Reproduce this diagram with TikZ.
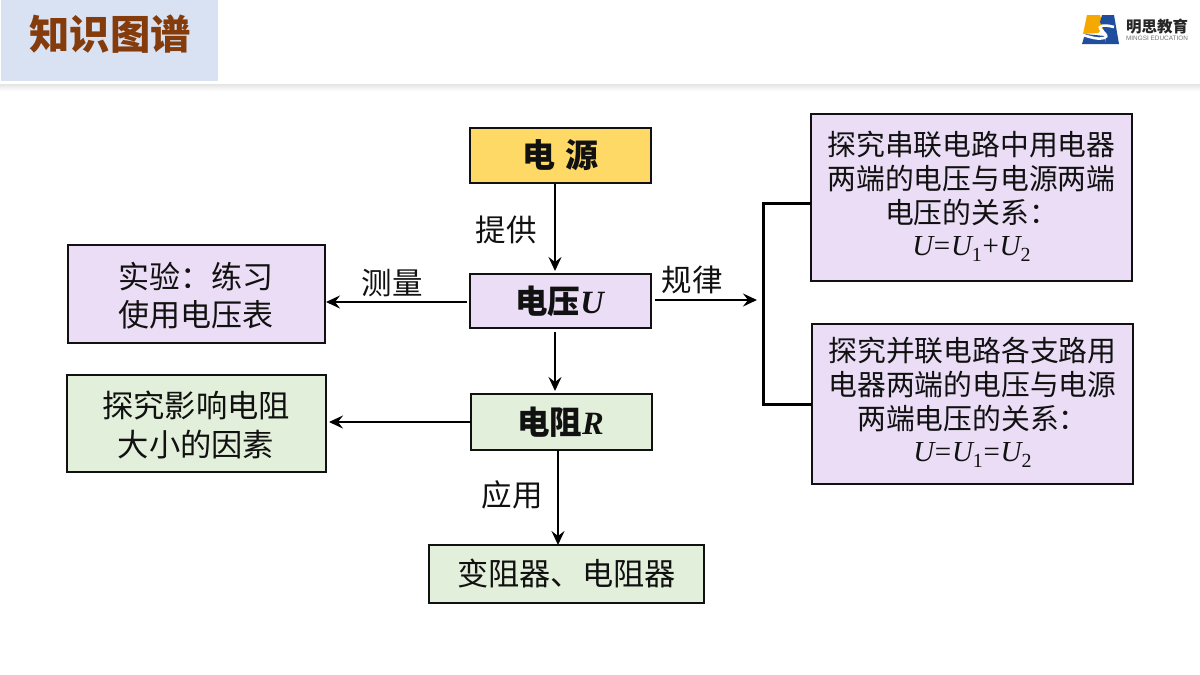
\documentclass[tikz,border=0pt]{standalone}
\usepackage{fontspec}
\setmainfont{Noto Sans CJK SC}
\newfontfamily\tm{Liberation Serif}
\newfontfamily\lat{Liberation Sans}
\usetikzlibrary{arrows.meta,calc}
\definecolor{ink}{HTML}{111111}
\definecolor{purp}{HTML}{EADDF5}
\definecolor{grn}{HTML}{E2EFDA}
\definecolor{yel}{HTML}{FFD966}
\definecolor{head}{HTML}{D9E2F3}
\definecolor{brn}{HTML}{843C0C}
\definecolor{lblue}{HTML}{1F4E9E}
\definecolor{lyel}{HTML}{F5A800}
\newcommand{\fs}[2]{\fontsize{#1}{#2}\selectfont}
\newcommand{\subs}[1]{\raisebox{-6pt}{\fontsize{20}{20}\selectfont #1}}
\newcommand{\eqn}[1]{{\tm\fs{29}{34}\itshape U\upshape\hspace{0.7pt}=\hspace{0.7pt}\itshape U\upshape\subs{1}\hspace{0.7pt}#1\hspace{0.7pt}\itshape U\upshape\subs{2}}}
\tikzset{
  x=1pt,y=-1pt,
  box/.style={draw=ink,line width=2pt,inner sep=0pt,outer sep=0pt,anchor=north west,text=ink},
  txt/.style={text=ink,inner sep=0pt,align=center},
  lab/.style={text=ink,inner sep=0pt,font=\fs{30.5}{36}},
  arr/.style={draw=black,line width=2.2pt,-{Stealth[length=14pt,width=13pt,inset=5pt]}},
  brk/.style={draw=black,line width=3pt},
}
\begin{document}
\begin{tikzpicture}
\useasboundingbox (0,0) rectangle (1200,675);
\fill[white] (0,0) rectangle (1200,675);
% header
\shade[top color=black!12,bottom color=white] (0,83) rectangle (1200,91);
\fill[white] (0,0) rectangle (1200,84);
\fill[head] (1,0) rectangle (218,81);
\node[text=brn,inner sep=0pt,font=\fs{40.3}{41}\bfseries] (title) at (110.3,34) {知识图谱};
% logo
\fill[lblue] (1082,44) -- (1085,34) -- (1105,36) -- (1106,44) -- cycle;
\fill[lyel] (1087,15) -- (1100,15) -- (1104,27) -- (1098,33) -- (1083,34) -- cycle;
\fill[lblue] (1102,15) -- (1114,15) -- (1119,44) -- (1106,44) -- (1105,33) -- (1100,22) -- cycle;
\draw[white,line width=2.6pt] (1114,27) .. controls (1103,24) and (1097,26) .. (1101,30) .. controls (1105,34) and (1109,36) .. (1104,38) .. controls (1098,40) and (1090,37) .. (1083,35);
\node[inner sep=0pt,text=black!85,font=\fs{15.5}{16}\bfseries] (lg1) at (1157,26.5) {明思教育};
\node[inner sep=0pt,text=black!55,font=\lat\fs{6.4}{7}] (lg2) at (1157,38) {MINGSI EDUCATION};
% boxes
\node[box,fill=yel,minimum width=181pt,minimum height=55pt,font=\fs{33}{40}\bfseries] (src) at (470,128) {电\,\,源};
\node[box,fill=purp,minimum width=181pt,minimum height=54pt,font=\fs{32.5}{40}\bfseries] (vol) at (470,274) {\hspace{-2pt}电压{\tm\itshape U}};
\node[box,fill=grn,minimum width=181pt,minimum height=56pt,font=\fs{32.5}{40}\bfseries] (res) at (471,394) {\hspace{-2pt}电阻{\tm\itshape R}};
\node[box,fill=purp,minimum width=257pt,minimum height=98pt] (exp) at (68,245) {};
\node[txt,font=\fs{31}{38}] (expt) at ($(exp.center)+(-0.5,2)$) {实验：练习\\使用电压表};
\node[box,fill=grn,minimum width=259pt,minimum height=97pt] (fac) at (67,375) {};
\node[txt,font=\fs{31.3}{39}] (fact) at ($(fac.center)+(-0.5,1.5)$) {探究影响电阻\\大小的因素};
\node[box,fill=grn,minimum width=275pt,minimum height=58pt,font=\fs{31.2}{40}] (app) at (429,545) {变阻器、电阻器};
\node[box,fill=purp,minimum width=321pt,minimum height=167pt] (r1) at (811,114) {};
\node[txt,font=\fs{28.8}{34}] (r1t) at ($(r1.center)+(0,-1.5)$)
  {探究串联电路中用电器\\两端的电压与电源两端\\电压的关系：\\[-2pt]\eqn{+}};
\node[box,fill=purp,minimum width=321pt,minimum height=160pt] (r2) at (812,324) {};
\node[txt,font=\fs{28.8}{34}] (r2t) at ($(r2.center)+(0,-1.5)$)
  {探究并联电路各支路用\\电器两端的电压与电源\\两端电压的关系：\\[-2pt]\eqn{=}};
% labels
\node[lab] (l1) at (506,229.5) {提供};
\node[lab] (l2) at (392,283) {测量};
\node[lab] (l3) at (692,279.5) {规律};
\node[lab] (l4) at (512,495) {应用};
% connectors
\coordinate (join) at (757,300);
\coordinate (brkx) at (763.5,300);
\draw[arr,shorten <=1pt,shorten >=3pt] (src.south -| 555,0) -- (vol.north -| 555,0);
\draw[arr,shorten <=3pt,shorten >=1pt] (470,302) -- (exp.east |- 0,302);
\draw[arr,shorten <=4pt] (vol.east |- 0,300) -- (join);
\draw[arr,shorten <=4pt,shorten >=3pt] (vol.south -| 555,0) -- (res.north -| 555,0);
\draw[arr,shorten <=0pt,shorten >=3pt] (res.west |- 0,422) -- (fac.east |- 0,422);
\draw[arr] (res.south -| 558,0) -- (app.north -| 558,0);
\draw[brk,line join=miter] (r1.west |- 0,203.5) -- (brkx |- 0,203.5) -- (brkx |- 0,404.5) -- (r2.west |- 0,404.5);
\end{tikzpicture}
\end{document}
